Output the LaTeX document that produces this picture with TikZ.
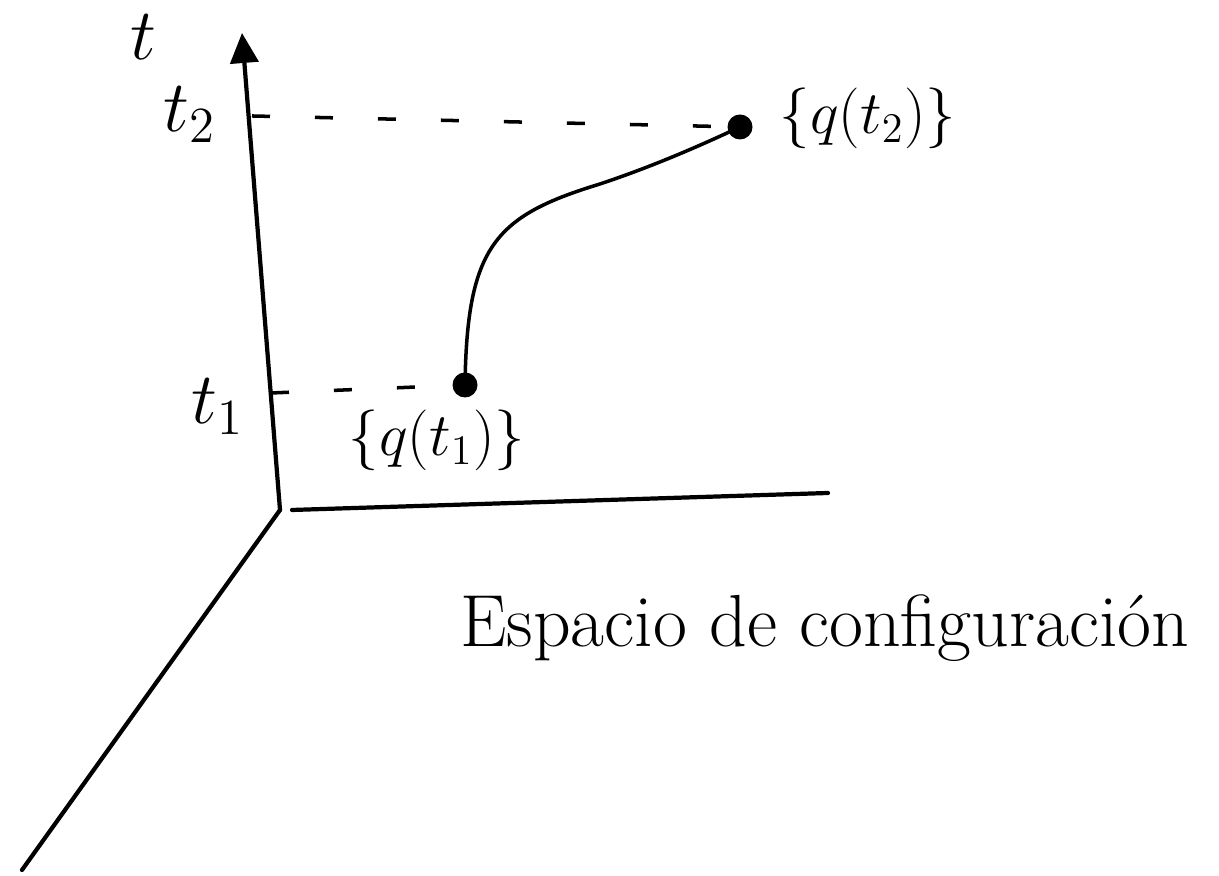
\documentclass[tikz,border=0pt]{standalone}
\usepackage{amsmath}
\usepackage{tikz}
\usetikzlibrary{arrows.meta}

\begin{document}
\begin{tikzpicture}[
  axis/.style={line width=1.2pt, line cap=round},
  guide/.style={line width=1pt, dash pattern=on 0.18cm off 0.45cm},
  traj/.style={line width=1pt},
  dot/.style={circle, fill=black, inner sep=0pt, minimum size=0.25cm},
  lab/.style={font=\fontsize{20}{24}\selectfont},
  qlab/.style={font=\fontsize{17}{20}\selectfont}
]
  \useasboundingbox (0,0) rectangle (12.19,8.76);
  % axes
  \coordinate (orig) at (2.80,3.66);
  \coordinate (ttop) at (2.42,8.43);
  \coordinate (xstart) at (2.92,3.66);
  \coordinate (xend) at (8.28,3.83);
  \coordinate (yend) at (0.22,0.06);
  \coordinate (tick2) at (2.52,7.60);
  \coordinate (tick1) at (2.71,4.83);
  \draw[axis, -{Triangle[length=0.3cm,width=0.28cm]}] (orig) -- (ttop);
  \draw[axis] (xstart) -- (xend);
  \draw[axis] (orig) -- (yend);
  % end points of the path
  \node[dot] (q1) at (4.65,4.91) {};
  \node[dot] (q2) at (7.40,7.49) {};
  \draw[guide] (tick2) -- (q2);
  \draw[guide] (tick1) -- (q1);
  \draw[traj] (q1.center) .. controls (4.67,6.3) and (4.95,6.6) .. (6.0,6.92)
    .. controls (6.6,7.12) and (7.1,7.35) .. (q2.center);
  % labels
  \node[lab] (tlab) at (1.43,8.39) {$t$};
  \node[lab] (t2lab) at (1.90,7.61) {$t_2$};
  \node[lab] (t1lab) at (2.18,4.69) {$t_1$};
  \node[qlab] (q1lab) at (4.37,4.36) {$\{q(t_1)\}$};
  \node[qlab] (q2lab) at (8.68,7.58) {$\{q(t_2)\}$};
  \node[font=\fontsize{21}{25}\selectfont, anchor=base west] (space) at (4.48,2.29) {Espacio de configuración};
\end{tikzpicture}
\end{document}
